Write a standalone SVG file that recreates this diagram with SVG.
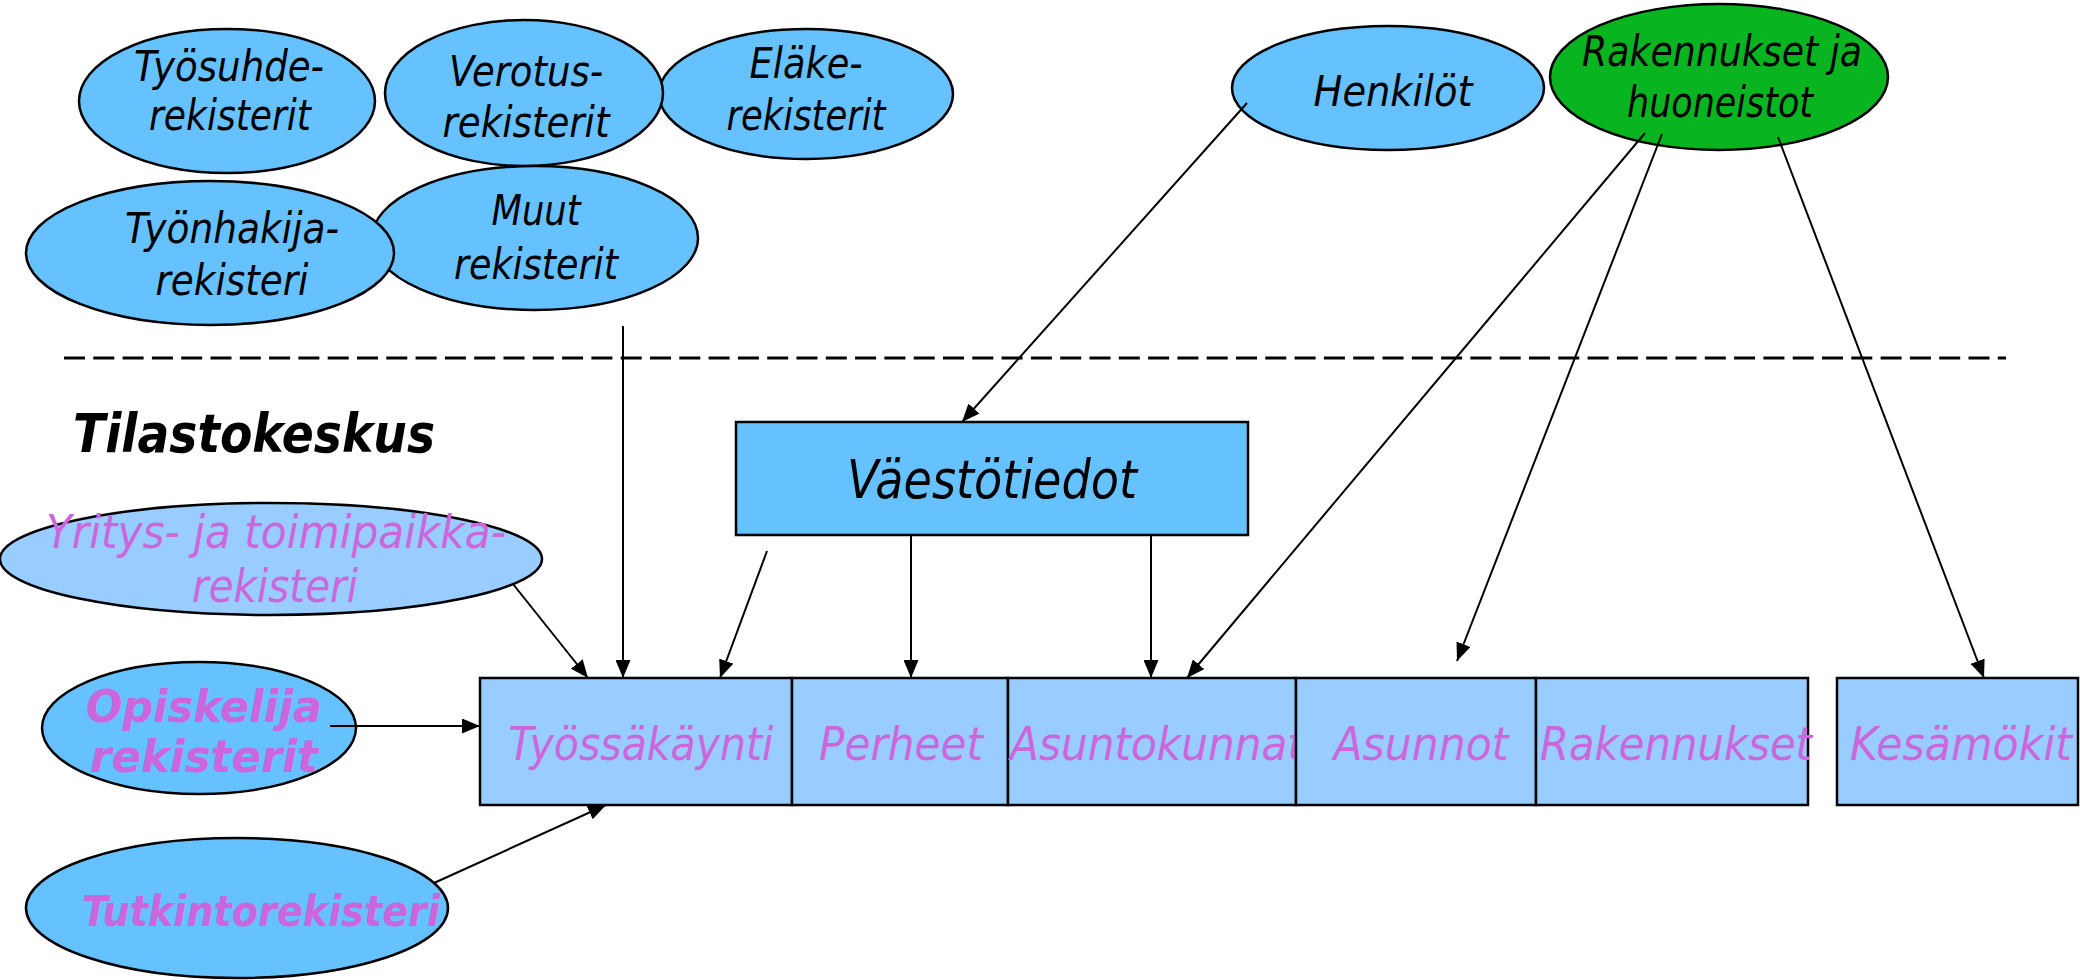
<svg xmlns="http://www.w3.org/2000/svg" width="2080" height="980" viewBox="0 0 2080 980">
<style>
.t{font-family:"DejaVu Sans Condensed","DejaVu Sans",Verdana,sans-serif;font-stretch:condensed;font-style:italic;text-anchor:middle}
.blk{fill:#000}
.mag{fill:#CC66DD}
.b{font-weight:bold}
.e{fill:#66C2FF;stroke:#000;stroke-width:2.5}
.el{fill:#99CCFF;stroke:#000;stroke-width:2.5}
.bx{fill:#99CCFF;stroke:#000;stroke-width:2.5}
.c line{stroke:#000;stroke-width:2}
</style>
<defs>
<marker id="ah" markerUnits="userSpaceOnUse" markerWidth="18" markerHeight="15" refX="18" refY="7.5" orient="auto">
<path d="M0,0 L18,7.5 L0,15 z" fill="#000"/>
</marker>
</defs>
<rect width="2080" height="980" fill="#fff"/>

<g id="tyosuhde">
<ellipse class="e" cx="227" cy="101" rx="148" ry="72"/>
<text class="t blk" x="229" y="81" font-size="43" textLength="190" lengthAdjust="spacingAndGlyphs">Työsuhde-</text>
<text class="t blk" x="230" y="130" font-size="43" textLength="162" lengthAdjust="spacingAndGlyphs">rekisterit</text>
</g>
<g id="verotus">
<ellipse class="e" cx="806" cy="94" rx="147" ry="65"/>
<ellipse class="e" cx="524" cy="93" rx="139" ry="73"/>
<text class="t blk" x="526" y="86" font-size="43" textLength="154" lengthAdjust="spacingAndGlyphs">Verotus-</text>
<text class="t blk" x="526" y="137" font-size="43" textLength="167" lengthAdjust="spacingAndGlyphs">rekisterit</text>
</g>
<g id="elake">
<text class="t blk" x="806" y="78" font-size="43" textLength="113" lengthAdjust="spacingAndGlyphs">Eläke-</text>
<text class="t blk" x="806" y="130" font-size="43" textLength="159" lengthAdjust="spacingAndGlyphs">rekisterit</text>
</g>
<g id="muut">
<ellipse class="e" cx="535" cy="238" rx="163" ry="72"/>
<text class="t blk" x="536" y="225" font-size="43" textLength="89" lengthAdjust="spacingAndGlyphs">Muut</text>
<text class="t blk" x="536" y="279" font-size="43" textLength="164" lengthAdjust="spacingAndGlyphs">rekisterit</text>
</g>
<g id="tyonhakija">
<ellipse class="e" cx="210" cy="253" rx="184" ry="72"/>
<text class="t blk" x="232" y="243" font-size="43" textLength="214" lengthAdjust="spacingAndGlyphs">Työnhakija-</text>
<text class="t blk" x="232" y="295" font-size="43" textLength="153" lengthAdjust="spacingAndGlyphs">rekisteri</text>
</g>
<g id="henkilot">
<ellipse class="e" cx="1388" cy="88" rx="156" ry="62"/>
<text class="t blk" x="1393" y="106" font-size="43" textLength="159" lengthAdjust="spacingAndGlyphs">Henkilöt</text>
</g>
<g id="rakennukset-huoneistot">
<ellipse cx="1719" cy="77" rx="169" ry="73" fill="#08B520" stroke="#000" stroke-width="2.5"/>
<text class="t blk" x="1722" y="66" font-size="43" textLength="280" lengthAdjust="spacingAndGlyphs">Rakennukset ja</text>
<text class="t blk" x="1720" y="117" font-size="43" textLength="186" lengthAdjust="spacingAndGlyphs">huoneistot</text>
</g>

<line x1="64" y1="358" x2="2006" y2="358" stroke="#000" stroke-width="3" stroke-dasharray="21,8.3"/>

<text class="t blk b" x="73" y="452" font-size="53" textLength="362" lengthAdjust="spacingAndGlyphs" style="text-anchor:start">Tilastokeskus</text>

<g id="vaestotiedot">
<rect x="736" y="422" width="512" height="113" fill="#66C2FF" stroke="#000" stroke-width="2.5"/>
<text class="t blk" x="992" y="498" font-size="53" textLength="290" lengthAdjust="spacingAndGlyphs">Väestötiedot</text>
</g>

<g id="yritys">
<ellipse class="el" cx="271" cy="559" rx="271" ry="56"/>
<text class="t mag" x="276" y="548" font-size="47" textLength="460" lengthAdjust="spacingAndGlyphs">Yritys- ja toimipaikka-</text>
<text class="t mag" x="275" y="602" font-size="47" textLength="166" lengthAdjust="spacingAndGlyphs">rekisteri</text>
</g>
<g id="opiskelija">
<ellipse class="e" cx="199" cy="728" rx="157" ry="66"/>
<text class="t mag b" x="204" y="722" font-size="44" textLength="236" lengthAdjust="spacingAndGlyphs">Opiskelija</text>
<text class="t mag b" x="204" y="772" font-size="44" textLength="228" lengthAdjust="spacingAndGlyphs">rekisterit</text>
</g>
<g id="tutkinto">
<ellipse class="e" cx="237" cy="908" rx="211" ry="70"/>
<text class="t mag b" x="261" y="926" font-size="43" textLength="358" lengthAdjust="spacingAndGlyphs">Tutkintorekisteri</text>
</g>

<g id="tyossakaynti">
<rect class="bx" x="480" y="678" width="312" height="127"/>
<text class="t mag" x="641" y="760" font-size="47" textLength="265" lengthAdjust="spacingAndGlyphs">Työssäkäynti</text>
</g>
<g id="perheet">
<rect class="bx" x="792" y="678" width="216" height="127"/>
<text class="t mag" x="901" y="760" font-size="47" textLength="164" lengthAdjust="spacingAndGlyphs">Perheet</text>
</g>
<g id="asuntokunnat">
<rect class="bx" x="1008" y="678" width="288" height="127"/>
<text class="t mag" x="1010" y="760" font-size="47" textLength="294" lengthAdjust="spacingAndGlyphs" style="text-anchor:start">Asuntokunnat</text>
</g>
<g id="asunnot">
<rect class="bx" x="1296" y="678" width="240" height="127"/>
<text class="t mag" x="1421" y="760" font-size="47" textLength="175" lengthAdjust="spacingAndGlyphs">Asunnot</text>
</g>
<g id="rakennukset">
<rect class="bx" x="1536" y="678" width="272" height="127"/>
<text class="t mag" x="1676" y="760" font-size="47" textLength="272" lengthAdjust="spacingAndGlyphs">Rakennukset</text>
</g>
<g id="kesamokit">
<rect class="bx" x="1837" y="678" width="241" height="127"/>
<text class="t mag" x="1961" y="760" font-size="47" textLength="222" lengthAdjust="spacingAndGlyphs">Kesämökit</text>
</g>

<g class="c" id="connectors">
<line x1="1247" y1="103" x2="962" y2="422" marker-end="url(#ah)"/>
<line x1="1645" y1="133" x2="1187" y2="678" marker-end="url(#ah)"/>
<line x1="1662" y1="134" x2="1457" y2="661" marker-end="url(#ah)"/>
<line x1="1778" y1="137" x2="1984" y2="678" marker-end="url(#ah)"/>
<line x1="623" y1="326" x2="623" y2="678" marker-end="url(#ah)"/>
<line x1="767" y1="551" x2="720" y2="678" marker-end="url(#ah)"/>
<line x1="911" y1="535" x2="911" y2="678" marker-end="url(#ah)"/>
<line x1="1151" y1="535" x2="1151" y2="678" marker-end="url(#ah)"/>
<line x1="513" y1="584" x2="588" y2="678" marker-end="url(#ah)"/>
<line x1="330" y1="726" x2="480" y2="726" marker-end="url(#ah)"/>
<line x1="434" y1="883" x2="606" y2="805" marker-end="url(#ah)"/>
</g>
</svg>
